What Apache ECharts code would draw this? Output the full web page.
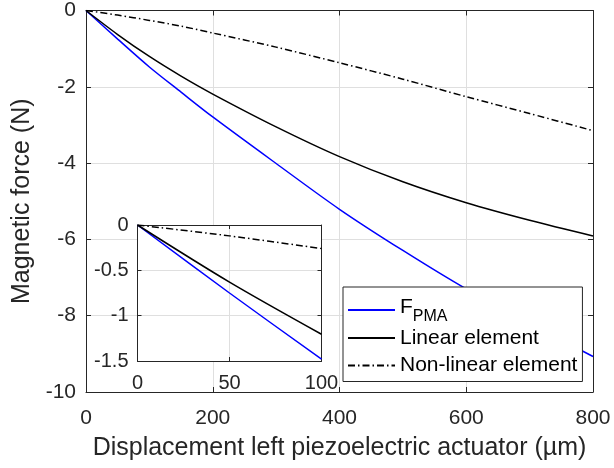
<!DOCTYPE html>
<html>
<head>
<meta charset="utf-8">
<script src="https://cdn.jsdelivr.net/npm/echarts@6/dist/echarts.min.js"></script>
<style>
  html, body { margin: 0; padding: 0; background: #fff; }
  #chart { width: 614px; height: 468px; }
</style>
</head>
<body>
<div id="chart"></div>
<script>
// Displacement of the left piezoelectric actuator (µm)
const displacement = [0, 50, 100, 150, 200, 300, 400, 500, 600, 700, 800];
// Magnetic force components (N)
const forcePMA = [0, -0.75, -1.48, -2.14, -2.79, -4.01, -5.21, -6.29, -7.30, -8.20, -9.07];
const forceLinear = [0, -0.63, -1.205, -1.72, -2.19, -3.05, -3.83, -4.49, -5.04, -5.50, -5.91];
const forceNonLinear = [0, -0.12, -0.26, -0.41, -0.59, -0.96, -1.37, -1.80, -2.26, -2.70, -3.15];

const seriesNames = ['F_PMA', 'Linear element', 'Non-linear element'];
const mainXTicks = { min: 0, max: 800, interval: 200 };
const mainYTicks = { min: -10, max: 0, interval: 2 };
const zoomXTicks = { min: 0, max: 100, interval: 50 };
const zoomYTicks = { min: -1.5, max: 0, interval: 0.5 };

const FONT = "'Liberation Sans', Arial, Helvetica, sans-serif";
const INK = '#262626';
const GRID_LINE = '#dfdfdf';
const DASH_DOT = [7, 3, 1.5, 3];

function pairs(ys, xmax) {
  const out = [];
  for (let i = 0; i < displacement.length; i++) {
    if (xmax === undefined || displacement[i] <= xmax) out.push([displacement[i], ys[i]]);
  }
  return out;
}

// frame-only axis (top / right edge of a box with inward ticks)
function boxAxis(gridIndex, position, ticks, tickLen, z) {
  return Object.assign({
    type: 'value', gridIndex: gridIndex, position: position, z: z,
    axisLine: { show: true, onZero: false, lineStyle: { color: INK, width: 1 } },
    axisTick: { show: true, inside: true, length: tickLen, lineStyle: { color: INK, width: 1 } },
    axisLabel: { show: false },
    splitLine: { show: false }
  }, ticks);
}

function labelledAxis(gridIndex, position, ticks, tickLen, fontSize, margin, z, extra) {
  return Object.assign({
    type: 'value', gridIndex: gridIndex, position: position, z: z,
    axisLine: { show: true, onZero: false, lineStyle: { color: INK, width: 1 } },
    axisTick: { show: true, inside: true, length: tickLen, lineStyle: { color: INK, width: 1 } },
    axisLabel: { show: true, fontSize: fontSize, fontFamily: FONT, color: INK, margin: margin,
                 showMinLabel: true, showMaxLabel: true, hideOverlap: false },
    splitLine: { show: true, lineStyle: { color: GRID_LINE, width: 1 } }
  }, ticks, extra || {});
}

const lineStyles = [
  { color: '#0000ff', width: 1.5, type: 'solid' },
  { color: '#000000', width: 1.5, type: 'solid' },
  { color: '#000000', width: 1.5, type: DASH_DOT }
];
const dataSets = [forcePMA, forceLinear, forceNonLinear];

const series = [];
// main panel
for (let i = 0; i < 3; i++) {
  series.push({
    name: seriesNames[i], type: 'line', xAxisIndex: 0, yAxisIndex: 0,
    data: pairs(dataSets[i]), smooth: 0.3, showSymbol: false, symbol: 'none',
    lineStyle: lineStyles[i], itemStyle: { color: lineStyles[i].color },
    z: 2, animation: false
  });
}
// inset panel (0–100 µm)
for (let i = 0; i < 3; i++) {
  series.push({
    name: seriesNames[i], type: 'line', xAxisIndex: 2, yAxisIndex: 2,
    data: pairs(dataSets[i], 100), smooth: 0.3, showSymbol: false, symbol: 'none',
    lineStyle: lineStyles[i], itemStyle: { color: lineStyles[i].color },
    z: 6, animation: false
  });
}

const option = {
  animation: false,
  backgroundColor: '#ffffff',
  textStyle: { fontFamily: FONT },
  grid: [
    { left: 86, right: 21, top: 10, bottom: 76, containLabel: false },
    { left: 137.5, top: 225, width: 184, height: 136, show: true,
      backgroundColor: '#ffffff', borderWidth: 0, z: 3 }
  ],
  xAxis: [
    labelledAxis(0, 'bottom', mainXTicks, 5, 21, 16, 1, {
      name: 'Displacement left piezoelectric actuator (\u00b5m)',
      nameLocation: 'middle', nameGap: 44,
      nameTextStyle: { fontSize: 25, fontFamily: FONT, color: INK }
    }),
    boxAxis(0, 'top', mainXTicks, 5, 1),
    labelledAxis(1, 'bottom', zoomXTicks, 4, 20, 12, 4),
    boxAxis(1, 'top', zoomXTicks, 4, 4)
  ],
  yAxis: [
    labelledAxis(0, 'left', mainYTicks, 5, 21, 10, 1, {
      name: 'Magnetic force (N)',
      nameLocation: 'middle', nameGap: 49, nameRotate: 90,
      nameTextStyle: { fontSize: 25, fontFamily: FONT, color: INK }
    }),
    boxAxis(0, 'right', mainYTicks, 5, 1),
    labelledAxis(1, 'left', zoomYTicks, 4, 20, 9, 4),
    boxAxis(1, 'right', zoomYTicks, 4, 4)
  ],
  legend: {
    data: seriesNames,
    orient: 'vertical',
    left: 343, top: 287,
    padding: [9.5, 5, 2, 4],
    itemGap: -0.5,
    itemWidth: 47, itemHeight: 14,
    backgroundColor: '#ffffff',
    borderColor: INK, borderWidth: 1,
    selectedMode: false,
    itemStyle: { opacity: 0, borderWidth: 0 },
    z: 10,
    formatter: function (name) {
      return name === 'F_PMA' ? '{f|F}{s|PMA}' : name;
    },
    textStyle: {
      fontSize: 21, fontFamily: FONT, color: '#000', lineHeight: 28,
      rich: {
        f: { fontSize: 21, fontFamily: FONT, color: '#000', lineHeight: 27, verticalAlign: 'top' },
        s: { fontSize: 16, fontFamily: FONT, color: '#000', lineHeight: 10,
             padding: [12, 0, 0, 0], verticalAlign: 'top' }
      }
    }
  },
  series: series
};

const chart = echarts.init(document.getElementById('chart'), null, { renderer: 'canvas' });
chart.setOption(option);
</script>
</body>
</html>
